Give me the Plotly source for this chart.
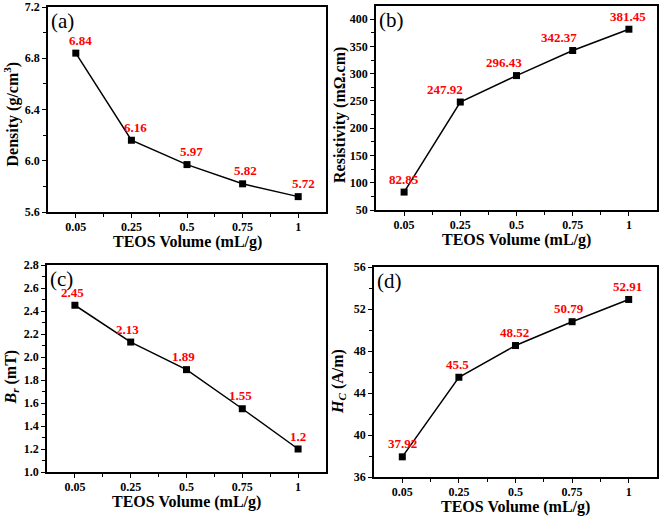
import plotly.graph_objects as go

# ---- data ----
teos_labels = ["0.05", "0.25", "0.5", "0.75", "1"]
density = [6.84, 6.16, 5.97, 5.82, 5.72]
resistivity = [82.85, 247.92, 296.43, 342.37, 381.45]
br = [2.45, 2.13, 1.89, 1.55, 1.2]
hc = [37.92, 45.5, 48.52, 50.79, 52.91]
density_text = ["6.84", "6.16", "5.97", "5.82", "5.72"]
resistivity_text = ["82.85", "247.92", "296.43", "342.37", "381.45"]
br_text = ["2.45", "2.13", "1.89", "1.55", "1.2"]
hc_text = ["37.92", "45.5", "48.52", "50.79", "52.91"]
x_title = "TEOS Volume (mL/g)"

# ---- style / layout settings ----
FONT = "Liberation Serif"
xpos = list(range(1, len(teos_labels) + 1))

panels = [
    dict(y=density, text=density_text, letter="(a)",
         ytitle="Density (g/cm<sup>3</sup>)", yrange=[5.6, 7.2], dtick=0.4, minor=0.2, fmt=".1f",
         xdom=[48/661, 326/661], ydom=[1-212/516, 1-7/516], xshift=[5, 4, 4, 3, 5], ytshift=-5),
    dict(y=resistivity, text=resistivity_text, letter="(b)",
         ytitle="Resistivity (mΩ.cm)", yrange=[50, 424], dtick=50, minor=25, fmt="d",
         xdom=[376/661, 657/661], ydom=[1-210/516, 1-6/516], xshift=[0, -15, -13, -14, -1], ytshift=-7),
    dict(y=br, text=br_text, letter="(c)",
         ytitle="<i>B<sub>r</sub></i> (mT)", yrange=[1.0, 2.8], dtick=0.2, minor=0.1, fmt=".1f",
         xdom=[47/661, 326/661], ydom=[1-472/516, 1-265/516], xshift=[-2, -3, -3, -2, 0], ytshift=-9),
    dict(y=hc, text=hc_text, letter="(d)",
         ytitle="<i>H<sub>C</sub></i> (A/m)", yrange=[36, 56], dtick=4, minor=2, fmt="d",
         xdom=[374/661, 657/661], ydom=[1-477/516, 1-267/516], xshift=[0, -1, -1, -3, -1], ytshift=-10),
]

title_font = dict(family=FONT, size=16, color="black", weight="bold")

fig = go.Figure()
annotations = []
for i, p in enumerate(panels):
    k = "" if i == 0 else str(i + 1)
    xa, ya = "x" + k, "y" + k
    fig.add_trace(go.Scatter(
        x=xpos, y=p["y"], mode="lines+markers", xaxis=xa, yaxis=ya,
        line=dict(color="black", width=1.5),
        marker=dict(symbol="square", size=7, color="black"),
        showlegend=False, hoverinfo="skip"))
    for xv, yv, t, dx in zip(xpos, p["y"], p["text"], p["xshift"]):
        annotations.append(dict(
            x=xv, y=yv, xref=xa, yref=ya, text="<b>%s</b>" % t, showarrow=False,
            xanchor="center", yanchor="middle", yshift=13, xshift=dx,
            font=dict(family=FONT, size=13, color="red")))
    # panel letter
    annotations.append(dict(
        x=0.004, y=1.0, xref=xa + " domain", yref=ya + " domain", text=p["letter"],
        showarrow=False, xanchor="left", yanchor="top",
        font=dict(family=FONT, size=21, color="black")))
    # x-axis title
    annotations.append(dict(
        x=0.5, y=0, xref=xa + " domain", yref=ya + " domain", text=x_title,
        showarrow=False, xanchor="center", yanchor="middle", yshift=-30,
        font=title_font))
    # y-axis title
    annotations.append(dict(
        x=0, y=0.5, xref=xa + " domain", yref=ya + " domain", text=p["ytitle"],
        showarrow=False, xanchor="center", yanchor="middle", textangle=-90,
        xshift=-36, yshift=p["ytshift"], font=title_font))
    axis_common = dict(showline=True, linecolor="black", linewidth=1.5, mirror=True,
                       ticks="outside", ticklen=4, tickwidth=1.2, tickcolor="black",
                       showgrid=False, zeroline=False, automargin=False,
                       tickfont=dict(family=FONT, size=12, color="black", weight="bold"))
    fig.layout["xaxis" + k] = dict(
        axis_common, domain=p["xdom"], anchor=ya, range=[0.5, 5.5],
        tickmode="array", tickvals=xpos, ticktext=teos_labels, ticklabelstandoff=-1,
        minor=dict(tickmode="array", tickvals=[1.5, 2.5, 3.5, 4.5], ticklen=3,
                   tickwidth=1.2, ticks="outside", tickcolor="black"))
    fig.layout["yaxis" + k] = dict(
        axis_common, domain=p["ydom"], anchor=xa, range=p["yrange"],
        tick0=p["yrange"][0], dtick=p["dtick"], tickformat=p["fmt"],
        minor=dict(dtick=p["minor"], tick0=p["yrange"][0], ticklen=3, tickwidth=1.2,
                   ticks="outside", tickcolor="black"))

fig.update_layout(
    width=661, height=516, margin=dict(l=0, r=0, t=0, b=0),
    paper_bgcolor="white", plot_bgcolor="white",
    annotations=annotations,
)

fig.write_html("out.html", config={"displayModeBar": False},
               post_script="document.body.style.margin='0';")
